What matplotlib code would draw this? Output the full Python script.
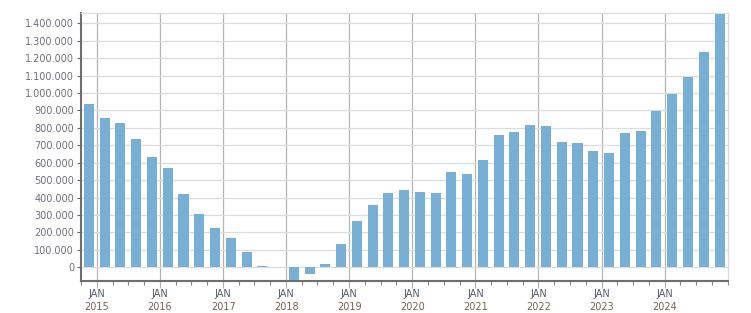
import datetime as dt
import matplotlib
matplotlib.use("Agg")
import matplotlib.pyplot as plt
import matplotlib.dates as mdates
from matplotlib.ticker import FuncFormatter, MultipleLocator

# quarterly values, Q4 2014 .. Q4 2024
quarter_starts = [dt.date(2014, 10, 1)] + [dt.date(y, m, 1) for y in range(2015, 2025) for m in (1, 4, 7, 10)]
values = [
    937000, 857000, 828000, 736000,
    635000, 570000, 422000, 308000,
    227000, 168000, 88000, 7000,
    2000, -73000, -37000, 19000,
    134000, 266000, 357000, 426000,
    443000, 432000, 426000, 547000,
    535000, 616000, 759000, 776000,
    816000, 811000, 719000, 713000,
    667000, 656000, 770000, 782000,
    897000, 994000, 1092000, 1235000,
    1453000,
]
years = list(range(2015, 2025))

bar_color = "#77b0d4"

# bars are centred in the middle of each quarter
centers = [d + dt.timedelta(days=45) for d in quarter_starts]

fig = plt.figure(figsize=(7.51, 3.13), dpi=100)
ax = fig.add_axes([0.108, 0.102, 0.861, 0.8555])

ax.bar(centers, values, width=58, color=bar_color, zorder=3)

ax.set_xlim(dt.date(2014, 10, 1), dt.date(2025, 1, 1))
ax.set_ylim(-79000, 1457000)

# y axis
ax.set_yticks(list(range(0, 1400001, 100000)))
ax.yaxis.set_major_formatter(FuncFormatter(lambda v, p: f"{int(v):,}".replace(",", ".")))
ax.grid(axis="y", color="#dcdcdc", linewidth=0.9, zorder=0)
ax.tick_params(axis="y", length=3, width=0.8, color="#666666", labelsize=7, labelcolor="#6f6f7d", pad=2)

# x axis: JAN ticks with vertical gridlines, quarter minor ticks
ax.xaxis.set_minor_locator(mdates.MonthLocator(bymonth=[1, 4, 7, 10]))
ax.set_xticks([dt.date(y, 1, 1) for y in years])
ax.set_xticklabels([""] * len(years))
ax.grid(axis="x", which="major", color="#b4b4b4", linewidth=0.9, zorder=1)
ax.tick_params(axis="x", which="major", length=5, width=0.8, color="#b4b4b4")
ax.tick_params(axis="x", which="minor", length=3, width=0.8, color="#888888")
for y in years:
    x = mdates.date2num(dt.date(y, 1, 1))
    ax.text(x, -0.0485, "JAN", transform=ax.get_xaxis_transform(), ha="center", va="center",
            fontsize=7, color="#565a6e")
    ax.text(x, -0.096, str(y), transform=ax.get_xaxis_transform(), ha="center", va="center",
            fontsize=7, color="#7d5f4e")

for side in ("top", "right"):
    ax.spines[side].set_color("#dcdcdc")
    ax.spines[side].set_linewidth(0.9)
for side in ("left", "bottom"):
    ax.spines[side].set_color("#6e6e6e")
    ax.spines[side].set_linewidth(1.5)

fig.savefig("out.png", dpi=100)
